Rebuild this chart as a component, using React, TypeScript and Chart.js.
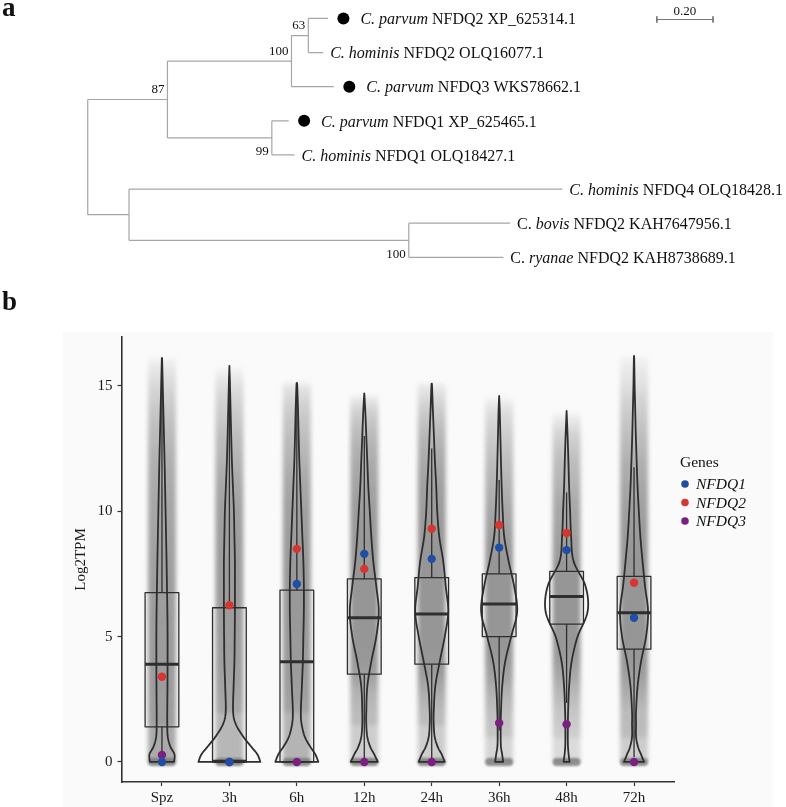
import React, { useEffect, useRef } from 'react';
import { Chart, registerables } from 'chart.js';

Chart.register(...registerables);

const SERIF = "'Liberation Serif', 'Times New Roman', serif";

// ---------------- Panel a : phylogenetic tree ----------------
const leafGenus = ['C. ', 'C. ', 'C. ', 'C. ', 'C. ', 'C. ', 'C. ', 'C. '];
const leafGenusItalic = [true, true, true, true, true, true, false, false];
const leafSpecies = ['parvum', 'hominis', 'parvum', 'parvum', 'hominis', 'hominis', 'bovis', 'ryanae'];
const leafGene = [
  'NFDQ2 XP_625314.1',
  'NFDQ2 OLQ16077.1',
  'NFDQ3 WKS78662.1',
  'NFDQ1 XP_625465.1',
  'NFDQ1 OLQ18427.1',
  'NFDQ4 OLQ18428.1',
  'NFDQ2 KAH7647956.1',
  'NFDQ2 KAH8738689.1',
];
const leafDepth = [0.856, 0.839, 0.877, 0.716, 0.737, 1.691, 1.505, 1.481];
const leafMarked = [true, false, true, true, false, false, false, false];

const nodeIds = ['n63', 'n100a', 'n99', 'n87', 'n100b', 'nLow', 'root'];
const nodeDepth = [0.786, 0.726, 0.656, 0.284, 1.144, 0.147, 0];
const nodeChildren = [
  ['L0', 'L1'],
  ['n63', 'L2'],
  ['L3', 'L4'],
  ['n100a', 'n99'],
  ['L6', 'L7'],
  ['L5', 'n100b'],
  ['n87', 'nLow'],
];
const nodeSupport = ['63', '100', '99', '87', '100', '', ''];
const nodeSupportBelow = [false, false, true, false, true, false, false];

const scaleBarStart = 2.028;
const scaleBarLength = 0.2;
const scaleBarLabel = '0.20';
const markerGap = 0.055;

// ---------------- Panel b : expression violins ----------------
const timeLabels = ['Spz', '3h', '6h', '12h', '24h', '36h', '48h', '72h'];
const yTickValues = [0, 5, 10, 15];
const boxQ1 = [1.4, 0, 0, 3.5, 3.9, 5.0, 5.5, 4.5];
const boxMedian = [3.9, 0.03, 4.0, 5.75, 5.9, 6.3, 6.6, 5.95];
const boxQ3 = [6.75, 6.15, 6.85, 7.3, 7.35, 7.5, 7.6, 7.4];
const whiskerLow = [0, 0, 0, 0, 0, 1.25, 2.35, 0.2];
const whiskerHigh = [14.8, 15.4, 15.1, 13.0, 12.5, 11.25, 10.75, 11.75];
const violinTop = [16.1, 15.8, 15.1, 14.7, 15.05, 14.6, 14.0, 16.2];

const densityLevels = [0, 0.3, 0.6, 1, 1.5, 2, 3, 4, 5, 6, 7, 8, 9, 10, 11, 12, 13, 14, 15, 16];
const densitySpz = [12, 12.5, 8.5, 5.8, 5.3, 5.3, 5.5, 5.6, 5.6, 5.4, 5.0, 4.6, 4.1, 3.6, 3.1, 2.6, 2.0, 1.4, 0.8, 0.2];
const density3h = [31, 28, 22, 14, 6.5, 3.7, 4.2, 5.0, 5.3, 5.5, 5.5, 5.5, 5.0, 4.5, 3.5, 2.5, 1.8, 1.2, 0.6, 0];
const density6h = [21.5, 18.5, 13.5, 8, 4.8, 4.0, 5.0, 6.0, 6.5, 7.0, 7.0, 6.5, 5.5, 4.5, 3.5, 2.5, 1.8, 1.2, 0.4, 0];
const density12h = [13.5, 10, 6, 3, 2, 2, 3, 7, 12, 14.5, 12, 9, 7, 5.5, 4, 3, 2, 1, 0, 0];
const density24h = [13, 10, 6, 3, 2, 2, 3.5, 8, 13, 16.5, 14, 11.5, 7.5, 5.5, 4.5, 3.2, 2.2, 1.2, 0.3, 0];
const density36h = [4, 3, 1.8, 1.5, 1.6, 1.8, 3, 6, 12, 18, 15, 9.5, 5, 3.5, 2.5, 1.8, 1.2, 0.6, 0, 0];
const density48h = [3, 2, 1.4, 1.2, 1.3, 1.5, 2.5, 5, 11, 21, 19, 7, 4.5, 3.5, 2.5, 1.8, 1, 0.2, 0, 0];
const density72h = [10, 7, 4, 2, 2, 2, 3.5, 7, 12, 14, 11, 8.5, 6.3, 4.8, 3.5, 2.6, 1.8, 1.2, 0.6, 0.2];
const densityRows = [densitySpz, density3h, density6h, density12h, density24h, density36h, density48h, density72h];
const densityToCategory = 1 / 67.4;

const geneNames = ['NFDQ1', 'NFDQ2', 'NFDQ3'];
const geneColors = ['#1f4ea3', '#d6362f', '#7b1f80'];
const nfdq1 = [0, 0, 7.1, 8.3, 8.1, 8.55, 8.45, 5.75];
const nfdq2 = [3.4, 6.25, 8.5, 7.7, 9.3, 9.45, 9.13, 7.15];
const nfdq3 = [0.28, 0, 0, 0, 0, 1.55, 1.5, 0];
const geneValues = [nfdq1, nfdq2, nfdq3];

// ---------------- helpers ----------------
function treePosition(id: string): { x: number; y: number } {
  if (id.startsWith('L')) {
    const i = parseInt(id.slice(1), 10);
    return { x: leafDepth[i], y: i };
  }
  const k = nodeIds.indexOf(id);
  const ch = nodeChildren[k].map(treePosition);
  return { x: nodeDepth[k], y: (ch[0].y + ch[ch.length - 1].y) / 2 };
}

function treeSegments() {
  const pts: { x: number | null; y: number | null }[] = [];
  nodeIds.forEach((id, k) => {
    const ch = nodeChildren[k].map(treePosition);
    const x = nodeDepth[k];
    pts.push({ x, y: ch[0].y }, { x, y: ch[ch.length - 1].y }, { x: null, y: null });
    ch.forEach((c) => {
      pts.push({ x, y: c.y }, { x: c.x, y: c.y }, { x: null, y: null });
    });
  });
  return pts;
}

function smoothProfile(levels: number[], dens: number[], top: number) {
  const knots: [number, number][] = [];
  levels.forEach((v, i) => {
    if (v < top) knots.push([v, dens[i]]);
  });
  knots.push([top, 0]);
  const out: [number, number][] = [];
  const steps = 10;
  for (let k = 0; k < knots.length - 1; k++) {
    const p0 = knots[k - 1] || knots[k];
    const p1 = knots[k];
    const p2 = knots[k + 1];
    const p3 = knots[k + 2] || knots[k + 1];
    for (let s = 0; s < steps; s++) {
      const t = s / steps;
      const t2 = t * t;
      const t3 = t2 * t;
      const f = (a: number, b: number, c: number, d: number) =>
        0.5 * (2 * b + (-a + c) * t + (2 * a - 5 * b + 4 * c - d) * t2 + (-a + 3 * b - 3 * c + d) * t3);
      const v = f(p0[0], p1[0], p2[0], p3[0]);
      const d = Math.max(0, f(p0[1], p1[1], p2[1], p3[1]));
      out.push([v, d]);
    }
  }
  out.push([top, 0]);
  return out;
}

const treeLabelPlugin = {
  id: 'treeLabels',
  afterDatasetsDraw(chart: any) {
    const { ctx } = chart;
    const xs = chart.scales.x;
    const ys = chart.scales.y;
    ctx.save();
    ctx.fillStyle = '#111';
    ctx.textBaseline = 'middle';
    leafGene.forEach((gene, i) => {
      const tip = xs.getPixelForValue(leafDepth[i]);
      let x = leafMarked[i] ? xs.getPixelForValue(leafDepth[i] + markerGap) + 17 : tip + 7;
      const y = ys.getPixelForValue(i) + 1.5;
      ctx.textAlign = 'left';
      ctx.font = `${leafGenusItalic[i] ? 'italic ' : ''}16px ${SERIF}`;
      ctx.fillText(leafGenus[i], x, y);
      x += ctx.measureText(leafGenus[i]).width;
      ctx.font = `italic 16px ${SERIF}`;
      ctx.fillText(leafSpecies[i], x, y);
      x += ctx.measureText(leafSpecies[i]).width;
      ctx.font = `16px ${SERIF}`;
      ctx.fillText(' ' + gene, x, y);
    });
    ctx.font = `13px ${SERIF}`;
    ctx.textAlign = 'right';
    nodeIds.forEach((id, k) => {
      if (!nodeSupport[k]) return;
      const p = treePosition(id);
      const ch = nodeChildren[k].map(treePosition);
      const px = xs.getPixelForValue(p.x) - 3;
      const py = nodeSupportBelow[k]
        ? ys.getPixelForValue(ch[ch.length - 1].y) - 3
        : ys.getPixelForValue(p.y) - 10;
      ctx.fillText(nodeSupport[k], px, py);
    });
    ctx.textAlign = 'center';
    ctx.font = `13px ${SERIF}`;
    ctx.fillText(
      scaleBarLabel,
      xs.getPixelForValue(scaleBarStart + scaleBarLength / 2),
      ys.getPixelForValue(0.03) - 8
    );
    ctx.textAlign = 'left';
    ctx.textBaseline = 'alphabetic';
    ctx.font = `bold 27px ${SERIF}`;
    ctx.fillText('a', 2, 16);
    ctx.restore();
  },
};

const violinPlugin = {
  id: 'violins',
  beforeDraw(chart: any) {
    const { ctx } = chart;
    ctx.save();
    ctx.fillStyle = '#fafafa';
    ctx.fillRect(63, 42, 710, chart.height - 42);
    ctx.fillStyle = '#111';
    ctx.textBaseline = 'alphabetic';
    ctx.font = `bold 27px ${SERIF}`;
    ctx.fillText('b', 2, 20);
    ctx.restore();
  },
  beforeDatasetsDraw(chart: any) {
    const { ctx } = chart;
    const xs = chart.scales.x;
    const ys = chart.scales.y;
    const catPx = xs.getPixelForValue(2) - xs.getPixelForValue(1);
    const toPx = (d: number) => d * densityToCategory * catPx;
    const y0 = ys.getPixelForValue(0);
    ctx.save();
    // jitter cloud, shaded from the density profile
    timeLabels.forEach((_, i) => {
      const cx = xs.getPixelForValue(i + 1);
      const prof = smoothProfile(densityLevels, densityRows[i], violinTop[i]);
      const dens = densityRows[i];
      let neckIdx = 1;
      for (let k = 1; k < densityLevels.length && densityLevels[k] <= 4; k++) {
        if (dens[k] < dens[neckIdx]) neckIdx = k;
      }
      const neckV = densityLevels[neckIdx];
      const neckD = dens[neckIdx] * 0.6;
      const yTop = ys.getPixelForValue(violinTop[i]);
      const g = ctx.createLinearGradient(0, yTop, 0, y0);
      prof.forEach(([v, d]) => {
        const dd = v < neckV ? neckD : d;
        const a = 0.8 * (1 - Math.exp(-0.5 * dd));
        const t = Math.min(1, Math.max(0, (ys.getPixelForValue(v) - yTop) / (y0 - yTop)));
        g.addColorStop(t, `rgba(125,125,125,${a.toFixed(3)})`);
      });
      ctx.filter = 'blur(2px)';
      ctx.fillStyle = g;
      ctx.fillRect(cx - 14, yTop - 2, 28, y0 - yTop + 2);
      ctx.filter = 'blur(1px)';
      ctx.fillStyle = 'rgba(110,110,110,0.75)';
      ctx.beginPath();
      ctx.roundRect(cx - 14, y0 - 4, 28, 8, 4);
      ctx.fill();
      ctx.filter = 'none';
    });
    // violins
    ctx.strokeStyle = '#2e2e2e';
    ctx.lineJoin = 'round';
    timeLabels.forEach((_, i) => {
      const cx = xs.getPixelForValue(i + 1);
      const prof = smoothProfile(densityLevels, densityRows[i], violinTop[i]);
      ctx.beginPath();
      prof.forEach(([v, d], k) => {
        const px = cx - toPx(d);
        const py = ys.getPixelForValue(v);
        if (k === 0) ctx.moveTo(px, py);
        else ctx.lineTo(px, py);
      });
      for (let k = prof.length - 1; k >= 0; k--) {
        const [v, d] = prof[k];
        ctx.lineTo(cx + toPx(d), ys.getPixelForValue(v));
      }
      ctx.closePath();
      ctx.lineWidth = 1.8;
      ctx.stroke();
    });
    // boxes with whiskers
    const half = 0.25;
    timeLabels.forEach((_, i) => {
      const cx = xs.getPixelForValue(i + 1);
      const xl = xs.getPixelForValue(i + 1 - half);
      const xr = xs.getPixelForValue(i + 1 + half);
      const yq1 = ys.getPixelForValue(boxQ1[i]);
      const yq3 = ys.getPixelForValue(boxQ3[i]);
      ctx.lineWidth = 1.3;
      ctx.beginPath();
      ctx.moveTo(cx, yq3);
      ctx.lineTo(cx, ys.getPixelForValue(whiskerHigh[i]));
      ctx.moveTo(cx, yq1);
      ctx.lineTo(cx, ys.getPixelForValue(whiskerLow[i]));
      ctx.stroke();
      ctx.strokeRect(xl, yq3, xr - xl, yq1 - yq3);
      ctx.lineWidth = 3;
      ctx.beginPath();
      const ym = ys.getPixelForValue(boxMedian[i]);
      ctx.moveTo(xl, ym);
      ctx.lineTo(xr, ym);
      ctx.stroke();
    });
    ctx.restore();
  },
  afterDraw(chart: any) {
    const { ctx } = chart;
    ctx.save();
    ctx.fillStyle = '#111';
    ctx.textBaseline = 'middle';
    ctx.textAlign = 'left';
    ctx.font = `15.5px ${SERIF}`;
    ctx.fillText('Genes', 680, 173);
    chart.data.datasets.forEach((ds: any, k: number) => {
      const y = 194 + k * 18.5;
      ctx.fillStyle = ds.backgroundColor;
      ctx.beginPath();
      ctx.arc(685, y, 3.8, 0, Math.PI * 2);
      ctx.fill();
      ctx.fillStyle = '#111';
      ctx.font = `italic 15.5px ${SERIF}`;
      ctx.fillText(ds.label, 696, y + 1);
    });
    ctx.restore();
  },
};

function TreeChart() {
  const ref = useRef<HTMLCanvasElement>(null);
  useEffect(() => {
    const scaleY = 0.03;
    const tick = 0.09;
    const chart = new Chart(ref.current as HTMLCanvasElement, {
      type: 'scatter',
      data: {
        datasets: [
          {
            label: 'branches',
            data: treeSegments() as any,
            showLine: true,
            spanGaps: false,
            borderColor: '#a6a6a6',
            borderWidth: 1.2,
            pointRadius: 0,
          },
          {
            label: 'scale',
            data: [
              { x: scaleBarStart, y: scaleY - tick },
              { x: scaleBarStart, y: scaleY + tick },
              { x: null, y: null },
              { x: scaleBarStart, y: scaleY },
              { x: scaleBarStart + scaleBarLength, y: scaleY },
              { x: null, y: null },
              { x: scaleBarStart + scaleBarLength, y: scaleY - tick },
              { x: scaleBarStart + scaleBarLength, y: scaleY + tick },
            ] as any,
            showLine: true,
            spanGaps: false,
            borderColor: '#777',
            borderWidth: 1,
            pointRadius: 0,
          },
          {
            label: 'markers',
            data: leafDepth
              .map((d, i) => (leafMarked[i] ? { x: d + markerGap, y: i } : null))
              .filter(Boolean) as any,
            pointRadius: 6,
            pointBackgroundColor: '#000',
            pointBorderWidth: 0,
          },
        ],
      },
      options: {
        animation: false,
        responsive: false,
        events: [],
        layout: { padding: 0 },
        plugins: { legend: { display: false }, tooltip: { enabled: false } },
        scales: {
          x: { type: 'linear', display: false, min: -83 / 285, max: (786 - 83) / 285 },
          y: { type: 'linear', display: false, reverse: true, min: -13 / 35.6, max: (290 - 13) / 35.6 },
        },
      },
      plugins: [treeLabelPlugin],
    });
    return () => chart.destroy();
  }, []);
  return <canvas ref={ref} width={786} height={290} style={{ position: 'absolute', left: 0, top: 0 }} />;
}

function ViolinChart() {
  const ref = useRef<HTMLCanvasElement>(null);
  useEffect(() => {
    const chart = new Chart(ref.current as HTMLCanvasElement, {
      type: 'scatter',
      data: {
        datasets: geneNames.map((name, g) => ({
          label: name,
          data: geneValues[g].map((v, i) => ({ x: i + 1, y: v })),
          backgroundColor: geneColors[g],
          pointBackgroundColor: geneColors[g],
          pointBorderWidth: 0,
          pointRadius: 4.2,
        })),
      },
      options: {
        animation: false,
        responsive: false,
        events: [],
        layout: { padding: { left: 0, right: 111.5, top: 47, bottom: 0 } },
        plugins: { legend: { display: false }, tooltip: { enabled: false } },
        scales: {
          x: {
            type: 'linear',
            min: 0.4,
            max: 8.6,
            afterBuildTicks: (s: any) => {
              s.ticks = timeLabels.map((_, i) => ({ value: i + 1 }));
            },
            afterFit: (s: any) => {
              s.height = 25;
            },
            ticks: {
              autoSkip: false,
              maxRotation: 0,
              padding: 3,
              color: '#1a1a1a',
              font: { family: SERIF, size: 15 },
              callback: (v: any) => timeLabels[Math.round(v) - 1] ?? '',
            },
            grid: { drawOnChartArea: false, drawTicks: true, tickLength: 4, tickColor: '#333', tickWidth: 1.2 },
            border: { display: true, color: '#333', width: 1.6 },
          },
          y: {
            type: 'linear',
            min: -0.8,
            max: 16.95,
            afterBuildTicks: (s: any) => {
              s.ticks = yTickValues.map((v) => ({ value: v }));
            },
            afterFit: (s: any) => {
              s.width = 121.5;
            },
            ticks: {
              padding: 5,
              color: '#1a1a1a',
              font: { family: SERIF, size: 15 },
            },
            title: {
              display: true,
              text: 'Log2TPM',
              color: '#1a1a1a',
              font: { family: SERIF, size: 15 },
              padding: { top: 72, bottom: 0 },
            },
            grid: { drawOnChartArea: false, drawTicks: true, tickLength: 4, tickColor: '#333', tickWidth: 1.2 },
            border: { display: true, color: '#333', width: 1.6 },
          },
        },
      },
      plugins: [violinPlugin],
    });
    return () => chart.destroy();
  }, []);
  return <canvas ref={ref} width={786} height={517} style={{ position: 'absolute', left: 0, top: 290 }} />;
}

export default function App() {
  useEffect(() => {
    document.body.style.margin = '0';
    document.body.style.background = '#ffffff';
  }, []);
  return (
    <div style={{ position: 'relative', width: 786, height: 807, background: '#fff', overflow: 'hidden' }}>
      <TreeChart />
      <ViolinChart />
    </div>
  );
}
